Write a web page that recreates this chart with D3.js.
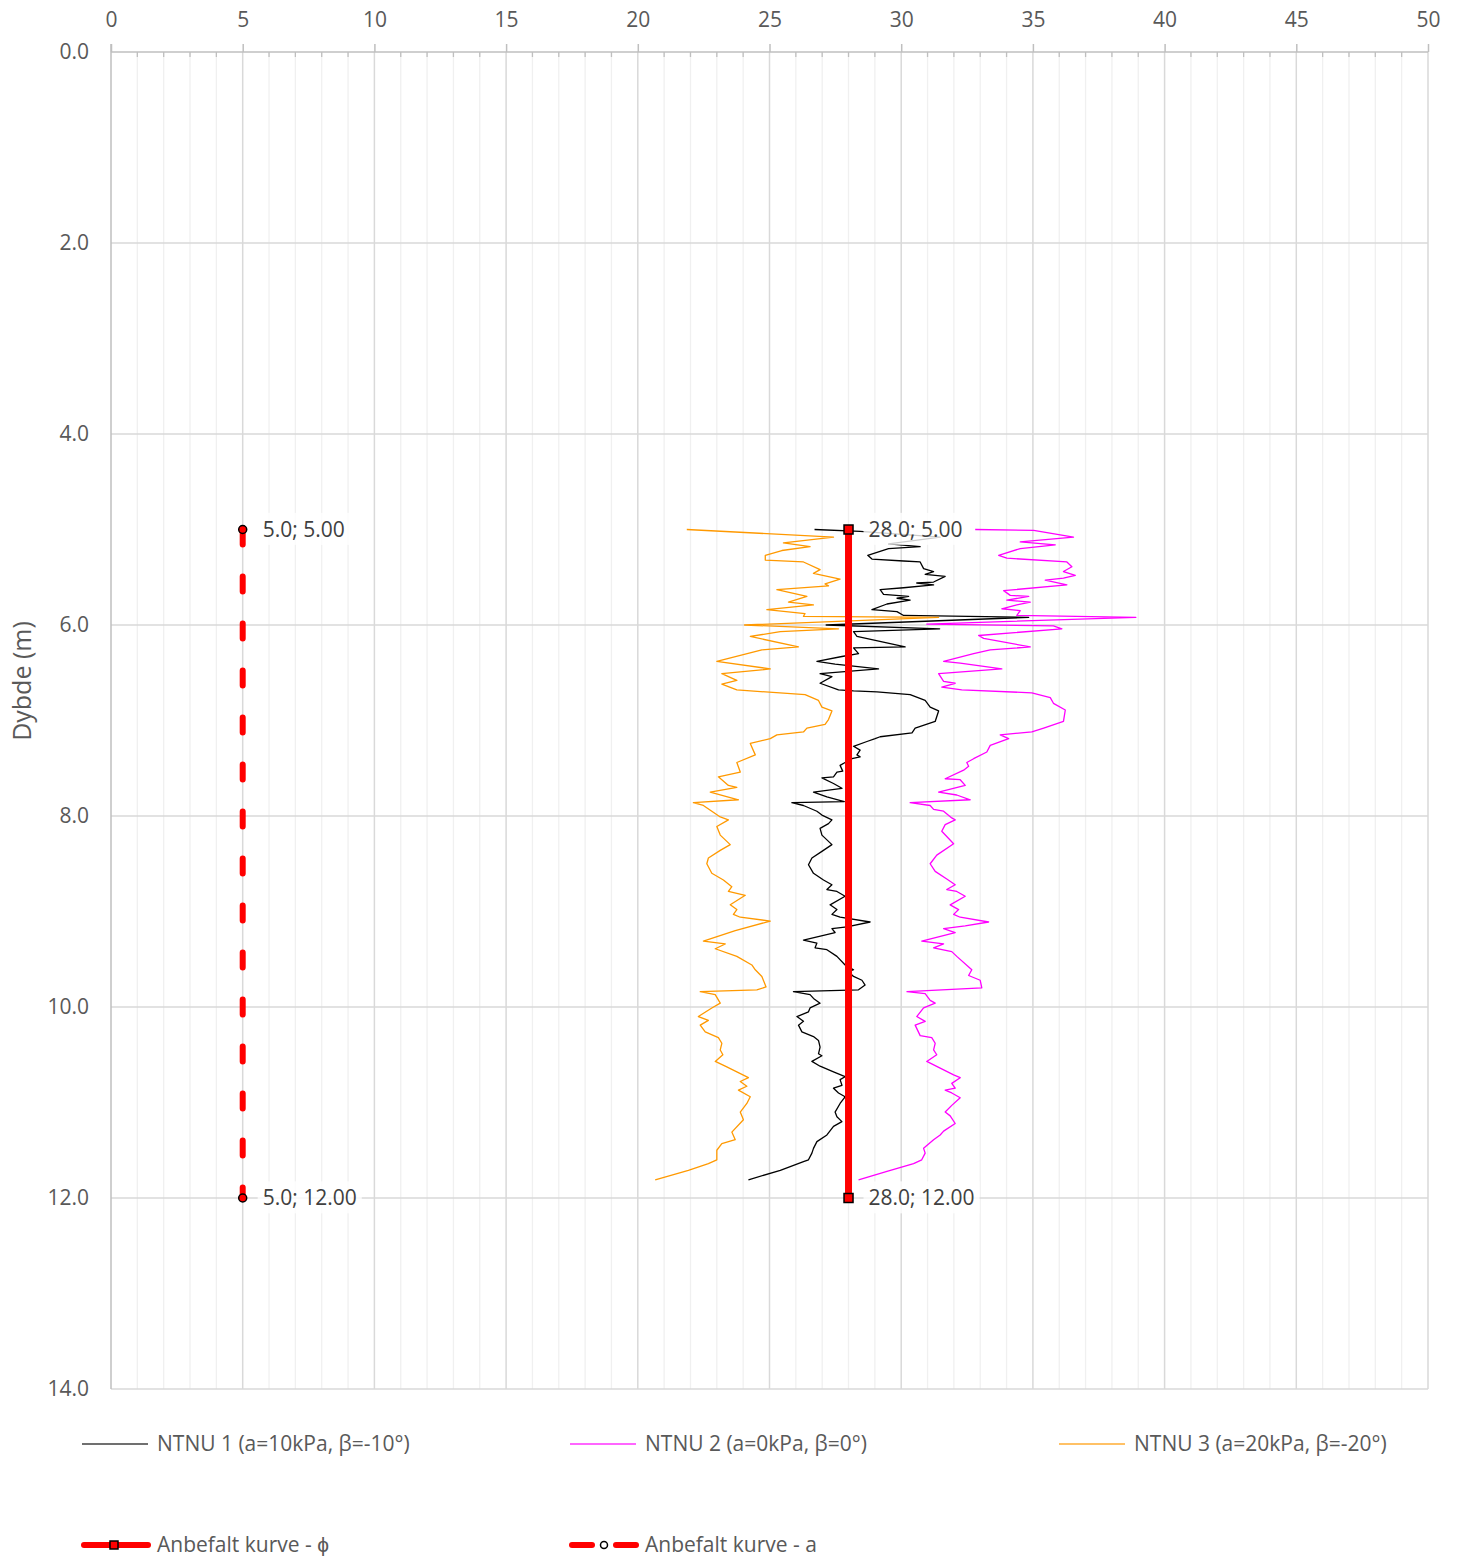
<!DOCTYPE html>
<html>
<head>
<meta charset="utf-8">
<script src="https://cdn.jsdelivr.net/npm/d3@7"></script>
<style>
  html, body { margin: 0; padding: 0; background: #ffffff; }
  svg { display: block; font-family: "Open Sans", "Liberation Sans", sans-serif; }
</style>
</head>
<body>
<svg id="chart" width="1458" height="1559"></svg>
<script>
// Friction angle (φ, degrees) versus depth (m) for three NTNU interpretations,
// plus the recommended design lines for φ and attraction a.

const xTicks = [0, 5, 10, 15, 20, 25, 30, 35, 40, 45, 50];
const yTicks = [0, 2, 4, 6, 8, 10, 12, 14];

// [depth (m), value]
const ntnu1 = [
  [5.00,26.71],[5.02,28.44],[5.08,31.48],[5.15,29.52],[5.18,30.72],[5.20,29.52],[5.27,28.73],[5.31,28.89],
  [5.33,30.09],[5.34,30.72],[5.41,30.85],[5.44,31.23],[5.47,30.91],[5.49,31.67],[5.55,31.23],[5.56,30.59],
  [5.58,31.23],[5.61,30.09],[5.63,29.20],[5.68,29.33],[5.70,30.28],[5.72,29.84],[5.74,30.34],[5.78,29.46],
  [5.84,28.89],[5.86,29.84],[5.90,30.09],[5.92,34.84],[6.00,27.15],[6.04,31.46],[6.07,28.19],[6.12,28.32],
  [6.23,30.15],[6.24,28.19],[6.30,28.38],[6.33,27.75],[6.38,26.80],[6.41,27.49],[6.46,29.14],[6.51,26.92],
  [6.54,27.37],[6.61,26.92],[6.68,27.62],[6.69,28.19],[6.70,29.08],[6.73,30.34],[6.79,30.91],[6.86,31.10],
  [6.90,31.42],[7.01,31.29],[7.08,30.53],[7.13,30.41],[7.17,29.20],[7.19,29.01],[7.22,28.70],[7.27,28.19],
  [7.31,28.44],[7.36,28.32],[7.38,28.44],[7.40,28.13],[7.44,27.87],[7.47,27.68],[7.53,27.78],[7.54,27.56],
  [7.59,27.43],[7.60,26.99],[7.66,27.43],[7.71,27.75],[7.75,26.67],[7.80,27.18],[7.85,27.84],[7.86,25.85],
  [7.89,26.29],[7.95,26.80],[7.99,26.99],[8.04,27.37],[8.08,27.24],[8.13,26.92],[8.20,26.99],[8.30,27.37],
  [8.37,26.99],[8.44,26.61],[8.51,26.48],[8.60,26.67],[8.67,27.05],[8.72,27.37],[8.77,27.18],[8.79,27.56],
  [8.84,27.87],[8.93,27.30],[8.98,27.56],[9.03,27.37],[9.06,27.68],[9.11,28.82],[9.16,27.94],[9.18,27.37],
  [9.22,27.49],[9.30,26.29],[9.33,26.80],[9.38,26.73],[9.40,27.18],[9.47,27.56],[9.56,27.87],[9.61,28.19],
  [9.63,28.00],[9.68,28.19],[9.72,28.51],[9.77,28.63],[9.82,28.38],[9.84,25.91],[9.87,26.54],[9.91,26.67],
  [9.96,26.92],[10.01,26.54],[10.05,26.48],[10.10,26.04],[10.15,26.29],[10.19,26.10],[10.26,26.23],[10.31,26.67],
  [10.35,26.86],[10.42,26.92],[10.49,26.86],[10.51,26.99],[10.57,26.61],[10.62,26.92],[10.68,27.43],[10.73,27.87],
  [10.76,27.68],[10.82,27.75],[10.85,27.43],[10.90,27.62],[10.94,27.87],[11.01,27.68],[11.10,27.49],[11.15,27.56],
  [11.20,27.75],[11.25,27.43],[11.34,27.18],[11.41,26.80],[11.48,26.67],[11.53,26.61],[11.60,26.48],[11.62,26.29],
  [11.71,25.41],[11.81,24.20]
];

const ntnu2 = [
  [5.00,32.81],[5.01,35.03],[5.08,36.54],[5.13,34.52],[5.16,35.85],[5.20,34.52],[5.27,33.70],[5.30,34.01],
  [5.34,36.29],[5.39,36.48],[5.44,36.16],[5.48,36.61],[5.51,36.16],[5.53,35.47],[5.58,36.29],[5.64,33.89],
  [5.69,34.14],[5.70,34.84],[5.74,34.01],[5.76,34.90],[5.79,34.39],[5.83,33.82],[5.85,34.52],[5.90,34.39],
  [5.92,38.91],[5.99,30.97],[6.01,35.78],[6.04,36.10],[6.11,32.94],[6.14,33.13],[6.23,34.90],[6.26,33.38],
  [6.30,32.75],[6.38,31.61],[6.40,32.24],[6.46,33.82],[6.51,31.42],[6.59,31.61],[6.61,32.05],[6.65,31.54],
  [6.68,32.30],[6.71,34.96],[6.76,35.66],[6.82,35.78],[6.89,36.23],[7.01,36.16],[7.08,35.41],[7.12,34.96],
  [7.15,33.76],[7.19,34.08],[7.26,33.38],[7.33,33.25],[7.40,32.75],[7.44,32.49],[7.48,32.56],[7.52,32.37],
  [7.61,31.67],[7.62,32.24],[7.68,32.43],[7.75,31.42],[7.78,32.11],[7.83,32.62],[7.86,30.34],[7.89,31.10],
  [7.93,31.23],[7.95,31.61],[8.02,31.92],[8.04,32.05],[8.09,31.67],[8.16,31.54],[8.29,31.99],[8.41,31.35],
  [8.50,31.10],[8.58,31.29],[8.66,31.73],[8.72,32.05],[8.77,31.73],[8.79,32.11],[8.84,32.43],[8.93,31.86],
  [8.98,32.18],[9.03,31.99],[9.06,32.24],[9.11,33.32],[9.15,32.43],[9.18,31.61],[9.22,32.05],[9.31,30.78],
  [9.34,31.61],[9.38,31.23],[9.42,31.92],[9.47,32.11],[9.61,32.68],[9.67,32.56],[9.72,33.00],[9.80,33.06],
  [9.84,30.22],[9.86,30.91],[9.93,31.10],[9.96,31.29],[10.01,30.85],[10.10,30.59],[10.15,30.91],[10.19,30.53],
  [10.30,30.72],[10.32,31.16],[10.38,31.29],[10.45,31.23],[10.50,31.35],[10.57,30.97],[10.64,31.48],[10.71,31.99],
  [10.74,32.24],[10.80,31.92],[10.85,32.05],[10.87,31.67],[10.90,31.92],[10.95,32.24],[11.03,31.92],[11.10,31.67],
  [11.14,31.86],[11.22,32.05],[11.30,31.61],[11.34,31.48],[11.39,31.23],[11.48,30.85],[11.53,30.91],[11.60,30.78],
  [11.64,30.47],[11.72,29.46],[11.81,28.38]
];

const ntnu3 = [
  [5.00,21.86],[5.08,27.43],[5.14,25.53],[5.18,26.54],[5.22,25.47],[5.27,24.84],[5.32,24.84],[5.34,26.29],
  [5.42,26.92],[5.46,26.67],[5.52,27.68],[5.57,27.11],[5.59,27.24],[5.63,25.28],[5.70,26.42],[5.76,25.72],
  [5.79,26.67],[5.84,24.90],[5.88,26.35],[5.91,26.29],[5.92,31.42],[6.00,24.05],[6.04,27.62],[6.07,25.41],
  [6.12,24.27],[6.23,26.10],[6.26,24.71],[6.38,23.00],[6.46,25.03],[6.51,23.19],[6.58,23.76],[6.62,23.19],
  [6.68,23.76],[6.73,26.35],[6.79,26.86],[6.86,26.99],[6.90,27.37],[6.99,27.24],[7.04,27.11],[7.08,26.42],
  [7.12,26.29],[7.15,25.28],[7.19,25.03],[7.24,24.27],[7.36,24.46],[7.44,23.76],[7.54,23.89],[7.59,23.06],
  [7.68,23.44],[7.70,23.76],[7.75,22.75],[7.83,23.82],[7.86,22.11],[7.89,22.49],[7.95,22.81],[8.01,23.13],
  [8.04,23.44],[8.11,23.00],[8.20,23.13],[8.30,23.51],[8.36,23.13],[8.44,22.68],[8.50,22.62],[8.60,22.81],
  [8.67,23.25],[8.74,23.57],[8.79,23.44],[8.83,24.08],[8.93,23.51],[8.98,23.76],[9.03,23.63],[9.06,23.89],
  [9.10,25.03],[9.20,23.70],[9.31,22.49],[9.34,23.32],[9.39,22.94],[9.47,23.76],[9.56,24.33],[9.61,24.46],
  [9.68,24.71],[9.79,24.87],[9.82,24.52],[9.84,22.37],[9.87,22.94],[9.96,23.13],[10.01,22.81],[10.10,22.30],
  [10.14,22.68],[10.19,22.37],[10.26,22.56],[10.32,23.06],[10.38,23.19],[10.45,23.13],[10.50,23.23],[10.57,22.94],
  [10.62,23.32],[10.68,23.76],[10.74,24.20],[10.78,23.89],[10.83,24.14],[10.87,23.82],[10.94,24.27],[11.01,24.14],
  [11.10,23.89],[11.18,24.01],[11.31,23.57],[11.39,23.70],[11.43,23.19],[11.50,23.00],[11.60,23.00],[11.64,22.68],
  [11.71,21.92],[11.81,20.66]
];

// Recommended design lines: [depth, value]
const anbefaltPhi = [[5.0, 28.0], [12.0, 28.0]];
const anbefaltA = [[5.0, 5.0], [12.0, 5.0]];

const seriesNames = [
  "NTNU 1 (a=10kPa, β=-10°)",
  "NTNU 2 (a=0kPa, β=0°)",
  "NTNU 3 (a=20kPa, β=-20°)",
  "Anbefalt kurve - ϕ",
  "Anbefalt kurve - a"
];
const seriesColors = ["#000000", "#ff00ff", "#ff9900", "#ff0000", "#ff0000"];

const svg = d3.select("#chart");
const x = d3.scaleLinear().domain([0, 50]).range([111, 1428]);
const y = d3.scaleLinear().domain([0, 14]).range([52, 1389]);

const textColor = "#595959";
const gridMajor = "#d9d9d9";
const gridMinor = "#f0f0f0";
const fontSize = "21px";

// Grid
const grid = svg.append("g");
grid.selectAll("line.vminor")
  .data(d3.range(1, 50).filter(v => v % 5 !== 0))
  .join("line")
  .attr("x1", d => x(d)).attr("x2", d => x(d))
  .attr("y1", y(0)).attr("y2", y(14))
  .attr("stroke", gridMinor).attr("stroke-width", 1.3);
grid.selectAll("line.vmajor")
  .data(xTicks.filter(v => v > 0))
  .join("line")
  .attr("x1", d => x(d)).attr("x2", d => x(d))
  .attr("y1", y(0)).attr("y2", y(14))
  .attr("stroke", gridMajor).attr("stroke-width", 1.5);
grid.selectAll("line.hmajor")
  .data(yTicks.filter(v => v > 0))
  .join("line")
  .attr("x1", x(0)).attr("x2", x(50))
  .attr("y1", d => y(d)).attr("y2", d => y(d))
  .attr("stroke", gridMajor).attr("stroke-width", 1.5);

// Axes
const axisTop = svg.append("g").attr("transform", `translate(0,${y(0)})`)
  .call(d3.axisTop(x).tickValues(xTicks).tickSize(8).tickPadding(17).tickFormat(d3.format("d")));
axisTop.select(".domain").attr("stroke", "#bfbfbf").attr("stroke-width", 1.5)
  .attr("d", `M${x(0)},0H${x(50)}`);
axisTop.selectAll(".tick line").attr("stroke", "#bfbfbf").attr("stroke-width", 1.5);
axisTop.selectAll(".tick text").attr("fill", textColor).style("font-size", fontSize)
  .style("font-family", "'Open Sans', sans-serif");

// minor ticks inside the top axis
svg.append("g").selectAll("line")
  .data(d3.range(1, 50).filter(v => v % 5 !== 0))
  .join("line")
  .attr("x1", d => x(d)).attr("x2", d => x(d))
  .attr("y1", y(0)).attr("y2", y(0) + 5)
  .attr("stroke", "#bfbfbf").attr("stroke-width", 1.3);

const axisLeft = svg.append("g").attr("transform", `translate(${x(0)},0)`)
  .call(d3.axisLeft(y).tickValues(yTicks).tickSize(0).tickPadding(22).tickFormat(d3.format(".1f")));
axisLeft.select(".domain").attr("stroke", "#bfbfbf").attr("stroke-width", 1.5)
  .attr("d", `M0,${y(0) - 8}V${y(14)}`);
axisLeft.selectAll(".tick text").attr("fill", textColor).style("font-size", fontSize)
  .style("font-family", "'Open Sans', sans-serif");

// Y title
svg.append("text")
  .attr("transform", `translate(31,681) rotate(-90)`)
  .attr("text-anchor", "middle")
  .attr("fill", textColor)
  .style("font-size", "25px")
  .text("Dybde (m)");

// NTNU profiles
const line = d3.line().x(d => x(d[1])).y(d => y(d[0]));
[ntnu1, ntnu2, ntnu3].forEach((s, i) => {
  svg.append("path")
    .datum(s)
    .attr("d", line)
    .attr("fill", "none")
    .attr("stroke", seriesColors[i])
    .attr("stroke-width", 1.3)
    .attr("stroke-linejoin", "round");
});

// Recommended a (dashed)
svg.append("path")
  .datum(anbefaltA)
  .attr("d", line)
  .attr("fill", "none")
  .attr("stroke", seriesColors[4])
  .attr("stroke-width", 6)
  .attr("stroke-linecap", "round")
  .attr("stroke-dasharray", "15 32");

// Recommended φ (solid)
svg.append("path")
  .datum(anbefaltPhi)
  .attr("d", line)
  .attr("fill", "none")
  .attr("stroke", seriesColors[3])
  .attr("stroke-width", 7);

// Markers
svg.append("g").selectAll("rect")
  .data(anbefaltPhi)
  .join("rect")
  .attr("x", d => x(d[1]) - 4.5).attr("y", d => y(d[0]) - 4.5)
  .attr("width", 9).attr("height", 9)
  .attr("fill", "#ff0000").attr("stroke", "#000000").attr("stroke-width", 1.5);
svg.append("g").selectAll("circle")
  .data(anbefaltA)
  .join("circle")
  .attr("cx", d => x(d[1])).attr("cy", d => y(d[0]))
  .attr("r", 4)
  .attr("fill", "#ff0000").attr("stroke", "#000000").attr("stroke-width", 1.5);

// Data labels
const fmtV = d3.format(".1f"), fmtD = d3.format(".2f");
function dataLabel(d) {
  const g = svg.append("g");
  const t = g.append("text")
    .attr("x", x(d[1]) + 20).attr("y", y(d[0]))
    .attr("dy", "0.35em")
    .attr("fill", "#404040")
    .style("font-size", fontSize)
    .text(`${fmtV(d[1])}; ${fmtD(d[0])}`);
  const b = t.node().getBBox();
  g.insert("rect", "text")
    .attr("x", b.x - 5).attr("y", b.y - 2)
    .attr("width", b.width + 10).attr("height", b.height + 4)
    .attr("fill", "#ffffff").attr("fill-opacity", 0.8);
}
anbefaltA.forEach(dataLabel);
anbefaltPhi.forEach(dataLabel);

// Legend
const legendItems = [
  { name: seriesNames[0], color: seriesColors[0], x: 82, y: 1444, kind: "thin" },
  { name: seriesNames[1], color: seriesColors[1], x: 570, y: 1444, kind: "thin" },
  { name: seriesNames[2], color: seriesColors[2], x: 1059, y: 1444, kind: "thin" },
  { name: seriesNames[3], color: seriesColors[3], x: 82, y: 1545, kind: "phi" },
  { name: seriesNames[4], color: seriesColors[4], x: 570, y: 1545, kind: "a" }
];
const lg = svg.append("g");
legendItems.forEach(it => {
  const g = lg.append("g").attr("transform", `translate(${it.x},${it.y})`);
  if (it.kind === "thin") {
    g.append("line").attr("x1", 0).attr("x2", 66).attr("y1", 0).attr("y2", 0)
      .attr("stroke", it.color).attr("stroke-width", 1.5).attr("stroke-opacity", it.color === "#000000" ? 0.75 : 0.8);
  } else if (it.kind === "phi") {
    g.append("line").attr("x1", 2).attr("x2", 66).attr("y1", 0).attr("y2", 0)
      .attr("stroke", it.color).attr("stroke-width", 6).attr("stroke-linecap", "round");
    g.append("rect").attr("x", 28).attr("y", -4).attr("width", 8).attr("height", 8)
      .attr("fill", "#ff0000").attr("stroke", "#000000").attr("stroke-width", 1.5);
  } else {
    g.append("line").attr("x1", 2).attr("x2", 22).attr("y1", 0).attr("y2", 0)
      .attr("stroke", it.color).attr("stroke-width", 6).attr("stroke-linecap", "round");
    g.append("line").attr("x1", 46).attr("x2", 66).attr("y1", 0).attr("y2", 0)
      .attr("stroke", it.color).attr("stroke-width", 6).attr("stroke-linecap", "round");
    g.append("circle").attr("cx", 34).attr("cy", 0).attr("r", 3.5)
      .attr("fill", "#ffffff").attr("stroke", "#000000").attr("stroke-width", 1.5);
  }
  g.append("text").attr("x", 75).attr("y", 0).attr("dy", "0.35em")
    .attr("fill", textColor).style("font-size", fontSize).text(it.name);
});
</script>
</body>
</html>
